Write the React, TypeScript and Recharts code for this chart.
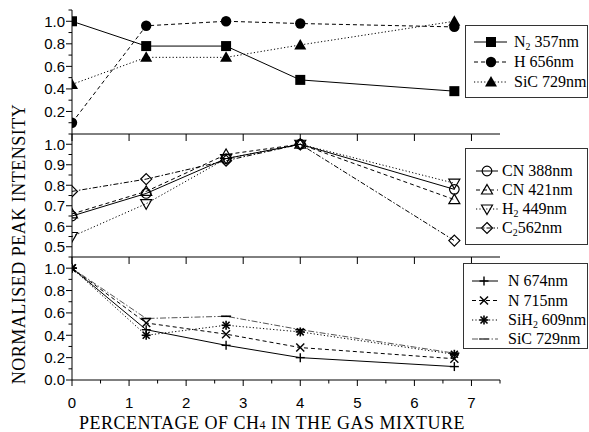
import React from 'react';
import { LineChart, Line, XAxis, YAxis, Legend } from 'recharts';

// ---------- data ----------
const xValues = [0, 1.3, 2.7, 4, 6.7];

// top panel
const n2_357 = [1.0, 0.78, 0.78, 0.48, 0.38];
const h_656 = [0.1, 0.96, 1.0, 0.98, 0.95];
const sic_729_top = [0.44, 0.68, 0.68, 0.79, 1.0];

// middle panel
const cn_388 = [0.65, 0.76, 0.93, 1.0, 0.78];
const cn_421 = [0.66, 0.77, 0.95, 1.0, 0.73];
const h2_449 = [0.55, 0.71, 0.93, 1.0, 0.81];
const c2_562 = [0.77, 0.83, 0.92, 1.0, 0.53];

// bottom panel
const n_674 = [1.0, 0.45, 0.31, 0.2, 0.12];
const n_715 = [1.0, 0.51, 0.41, 0.29, 0.19];
const sih2_609 = [1.0, 0.4, 0.49, 0.43, 0.23];
const sic_729_bot = [1.0, 0.55, 0.57, 0.45, 0.24];

const topNames = ['N_2 357nm', 'H 656nm', 'SiC 729nm'];
const midNames = ['CN 388nm', 'CN 421nm', 'H_2 449nm', 'C_2562nm'];
const botNames = ['N 674nm', 'N 715nm', 'SiH_2 609nm', 'SiC 729nm'];

const xTicksMajor = [0, 1, 2, 3, 4, 5, 6, 7];
const xTicksAll = [0, 0.5, 1, 1.5, 2, 2.5, 3, 3.5, 4, 4.5, 5, 5.5, 6, 6.5, 7, 7.5];

const topYMajor = [0.2, 0.4, 0.6, 0.8, 1.0];
const topYAll = [0.1, 0.2, 0.3, 0.4, 0.5, 0.6, 0.7, 0.8, 0.9, 1.0, 1.1];
const midYMajor = [0.5, 0.6, 0.7, 0.8, 0.9, 1.0];
const midYAll = [0.5, 0.55, 0.6, 0.65, 0.7, 0.75, 0.8, 0.85, 0.9, 0.95, 1.0, 1.05];
const botYMajor = [0.0, 0.2, 0.4, 0.6, 0.8, 1.0];
const botYAll = [0.0, 0.1, 0.2, 0.3, 0.4, 0.5, 0.6, 0.7, 0.8, 0.9, 1.0, 1.1];

const xTitle = ['PERCENTAGE OF CH', '4', ' IN THE GAS MIXTURE'];
const yTitle = 'NORMALISED PEAK INTENSITY';

const SERIF = 'Liberation Serif, Times New Roman, Times, serif';
const SANS = 'Liberation Sans, Arial, Helvetica, sans-serif';

// ---------- helpers ----------
type Kind = 'square' | 'circle' | 'triangle' | 'ocircle' | 'otri' | 'otridown' | 'odiamond' | 'plus' | 'cross' | 'star' | 'bar';

interface SeriesCfg {
  key: string;
  name: string;
  values: number[];
  dash?: string;
  color: string;
  kind: Kind;
}

const buildData = (series: SeriesCfg[]) =>
  xValues.map((x, i) => {
    const row: Record<string, number> = { x };
    series.forEach((s) => (row[s.key] = s.values[i]));
    return row;
  });

const topSeries: SeriesCfg[] = [
  { key: 'n2', name: topNames[0], values: n2_357, color: '#000', kind: 'square' },
  { key: 'h', name: topNames[1], values: h_656, dash: '4 3', color: '#000', kind: 'circle' },
  { key: 'sic', name: topNames[2], values: sic_729_top, dash: '1.2 2.2', color: '#000', kind: 'triangle' },
];
const midSeries: SeriesCfg[] = [
  { key: 'cn388', name: midNames[0], values: cn_388, color: '#000', kind: 'ocircle' },
  { key: 'cn421', name: midNames[1], values: cn_421, dash: '4 3', color: '#000', kind: 'otri' },
  { key: 'h2', name: midNames[2], values: h2_449, dash: '1.2 2.2', color: '#000', kind: 'otridown' },
  { key: 'c2', name: midNames[3], values: c2_562, dash: '5 2 1.5 2', color: '#000', kind: 'odiamond' },
];
const botSeries: SeriesCfg[] = [
  { key: 'n674', name: botNames[0], values: n_674, color: '#000', kind: 'plus' },
  { key: 'n715', name: botNames[1], values: n_715, dash: '4 3', color: '#000', kind: 'cross' },
  { key: 'sih2', name: botNames[2], values: sih2_609, dash: '1.2 2.2', color: '#000', kind: 'star' },
  { key: 'sic', name: botNames[3], values: sic_729_bot, dash: '6 2 1.5 2', color: '#555', kind: 'bar' },
];

const Marker = ({ kind, cx, cy, color }: { kind: Kind; cx: number; cy: number; color: string }) => {
  const sw = 1.2;
  switch (kind) {
    case 'square':
      return <rect x={cx - 5} y={cy - 5} width={10} height={10} fill={color} />;
    case 'circle':
      return <circle cx={cx} cy={cy} r={5.2} fill={color} />;
    case 'triangle':
      return <path d={`M${cx},${cy - 6} L${cx + 6},${cy + 4.5} L${cx - 6},${cy + 4.5} Z`} fill={color} />;
    case 'ocircle':
      return <circle cx={cx} cy={cy} r={4.8} fill="none" stroke={color} strokeWidth={sw} />;
    case 'otri':
      return <path d={`M${cx},${cy - 5.5} L${cx + 5.5},${cy + 4} L${cx - 5.5},${cy + 4} Z`} fill="none" stroke={color} strokeWidth={sw} />;
    case 'otridown':
      return <path d={`M${cx},${cy + 5.5} L${cx + 5.5},${cy - 4} L${cx - 5.5},${cy - 4} Z`} fill="none" stroke={color} strokeWidth={sw} />;
    case 'odiamond':
      return <path d={`M${cx},${cy - 5.5} L${cx + 5.5},${cy} L${cx},${cy + 5.5} L${cx - 5.5},${cy} Z`} fill="none" stroke={color} strokeWidth={sw} />;
    case 'plus':
      return (
        <g stroke={color} strokeWidth={1.4}>
          <line x1={cx - 4.5} x2={cx + 4.5} y1={cy} y2={cy} />
          <line x1={cx} x2={cx} y1={cy - 4.5} y2={cy + 4.5} />
        </g>
      );
    case 'cross':
      return (
        <g stroke={color} strokeWidth={1.4}>
          <line x1={cx - 4} x2={cx + 4} y1={cy - 4} y2={cy + 4} />
          <line x1={cx - 4} x2={cx + 4} y1={cy + 4} y2={cy - 4} />
        </g>
      );
    case 'star':
      return (
        <g stroke={color} strokeWidth={1.6}>
          <line x1={cx - 4.5} x2={cx + 4.5} y1={cy} y2={cy} />
          <line x1={cx} x2={cx} y1={cy - 4.5} y2={cy + 4.5} />
          <line x1={cx - 3.5} x2={cx + 3.5} y1={cy - 3.5} y2={cy + 3.5} />
          <line x1={cx - 3.5} x2={cx + 3.5} y1={cy + 3.5} y2={cy - 3.5} />
        </g>
      );
    case 'bar':
      return <line x1={cx - 5} x2={cx + 5} y1={cy} y2={cy} stroke={color} strokeWidth={1.6} />;
  }
  return null;
};

const near = (a: number, arr: number[]) => arr.some((m) => Math.abs(m - a) < 1e-6);

const makeYTick = (majors: number[]) => (props: any) => {
  const { x, y, payload } = props;
  const v = payload.value as number;
  const major = near(v, majors);
  return (
    <g>
      <line x1={x - (major ? 6 : 3.5)} x2={x} y1={y} y2={y} stroke="#000" strokeWidth={1} />
      {major && (
        <text x={x - 7} y={y} dy="0.36em" textAnchor="end" style={{ fontFamily: SANS, fontSize: 15 }} fill="#000">
          {v.toFixed(1)}
        </text>
      )}
    </g>
  );
};

const XTickBottom = (props: any) => {
  const { x, y, payload } = props;
  const v = payload.value as number;
  const major = near(v, xTicksMajor);
  return (
    <g>
      <line x1={x} x2={x} y1={y} y2={y + (major ? 6 : 3.5)} stroke="#000" strokeWidth={1} />
      {major && (
        <text x={x} y={y + 28} textAnchor="middle" style={{ fontFamily: SANS, fontSize: 15 }} fill="#000">
          {String(v)}
        </text>
      )}
    </g>
  );
};

const XTickPlain = (props: any) => {
  const { x, y } = props;
  return <line x1={x} x2={x} y1={y} y2={y + 7} stroke="#000" strokeWidth={1} />;
};

const LabelText = ({ text, x, y, fontSize }: { text: string; x: number; y: number; fontSize: number }) => {
  const m = text.match(/^(.*?)_(\d)(.*)$/);
  const st = { fontFamily: SERIF, fontSize };
  if (!m) {
    return (
      <text x={x} y={y} style={st} fill="#000">
        {text}
      </text>
    );
  }
  return (
    <text x={x} y={y} style={st} fill="#000">
      {m[1]}
      <tspan dy={3} style={{ fontSize: fontSize * 0.62 }}>
        {m[2]}
      </tspan>
      <tspan dy={-3}>{m[3]}</tspan>
    </text>
  );
};

interface LegendLayout {
  left: number;
  top: number;
  width: number;
  height: number;
  rows: number[];
  lineX1: number;
  lineX2: number;
  markerX: number;
  textX: number;
}

const makeLegend = (series: SeriesCfg[], L: LegendLayout) => () => (
  <div
    style={{
      width: L.width,
      height: L.height,
      border: '1px solid #333',
      boxSizing: 'border-box',
      background: '#fff',
      position: 'relative',
    }}
  >
    <svg width={L.width} height={L.height} style={{ position: 'absolute', left: -1, top: -1 }}>
      {series.map((s, i) => (
        <g key={s.key}>
          <line
            x1={L.lineX1}
            x2={L.lineX2}
            y1={L.rows[i]}
            y2={L.rows[i]}
            stroke={s.color}
            strokeWidth={1}
            strokeDasharray={s.dash}
          />
          <Marker kind={s.kind} cx={L.markerX} cy={L.rows[i]} color={s.color} />
          <LabelText text={s.name} x={L.textX} y={L.rows[i] + 5} fontSize={16} />
        </g>
      ))}
    </svg>
  </div>
);

const W = 589;
const H = 432;
const PLOT_LEFT = 72;
const PLOT_RIGHT = 500;

interface PanelProps {
  series: SeriesCfg[];
  top: number;
  bottom: number;
  yDomain: [number, number];
  yTicks: number[];
  yMajor: number[];
  legend: LegendLayout;
  isBottom?: boolean;
}

const Panel = ({ series, top, bottom, yDomain, yTicks, yMajor, legend, isBottom }: PanelProps) => {
  const data = buildData(series);
  const xh = 20;
  return (
    <div style={{ position: 'absolute', left: 0, top: 0 }}>
      <LineChart
        width={W}
        height={H}
        data={data}
        margin={{ top, bottom: H - bottom - xh, left: PLOT_LEFT - 60, right: W - PLOT_RIGHT }}
      >
        <XAxis
          dataKey="x"
          type="number"
          domain={[0, 7.5]}
          ticks={isBottom ? xTicksAll : xTicksMajor}
          interval={0}
          height={xh}
          axisLine={{ stroke: '#000', strokeWidth: 1 }}
          tickLine={false}
          tickSize={0}
          tickMargin={0}
          tick={isBottom ? XTickBottom : XTickPlain}
          allowDataOverflow
        />
        <YAxis
          type="number"
          domain={yDomain}
          ticks={yTicks}
          interval={0}
          width={60}
          axisLine={{ stroke: '#000', strokeWidth: 1 }}
          tickLine={false}
          tickSize={0}
          tickMargin={0}
          tick={makeYTick(yMajor)}
          allowDataOverflow
        />
        <Legend
          layout="vertical"
          align="center"
          verticalAlign="middle"
          content={makeLegend(series, legend)}
          wrapperStyle={{ left: legend.left, top: legend.top, width: legend.width, height: legend.height, margin: 0 }}
        />
        {series.map((s) => (
          <Line
            key={s.key}
            dataKey={s.key}
            name={s.name}
            type="linear"
            stroke={s.color}
            strokeWidth={1}
            strokeDasharray={s.dash}
            isAnimationActive={false}
            dot={(p: any) => (
              <g key={`${s.key}-${p.index}`}>
                <Marker kind={s.kind} cx={p.cx} cy={p.cy} color={s.kind === 'bar' ? '#000' : s.color} />
              </g>
            )}
            activeDot={false}
          />
        ))}
      </LineChart>
    </div>
  );
};

export default function App() {
  return (
    <div style={{ position: 'absolute', left: 0, top: 0, width: W, height: H, background: '#fff' }}>
      <Panel
        series={topSeries}
        top={10}
        bottom={134}
        yDomain={[0, 1.1]}
        yTicks={topYAll}
        yMajor={topYMajor}
        legend={{ left: 465, top: 25, width: 123, height: 73, rows: [17, 37, 57], lineX1: 9, lineX2: 42, markerX: 26, textX: 49 }}
      />
      <Panel
        series={midSeries}
        top={134}
        bottom={257}
        yDomain={[0.45, 1.05]}
        yTicks={midYAll}
        yMajor={midYMajor}
        legend={{ left: 465, top: 148, width: 123, height: 97, rows: [23, 42, 61, 80], lineX1: 11, lineX2: 33, markerX: 22, textX: 37 }}
      />
      <Panel
        series={botSeries}
        top={257}
        bottom={380}
        yDomain={[0, 1.1]}
        yTicks={botYAll}
        yMajor={botYMajor}
        legend={{ left: 463, top: 263, width: 125, height: 86, rows: [18, 37.5, 57, 76], lineX1: 9, lineX2: 35, markerX: 21, textX: 45 }}
        isBottom
      />
      <svg width={W} height={H} style={{ position: 'absolute', left: 0, top: 0, pointerEvents: 'none' }}>
        <text
          x={272}
          y={429}
          textAnchor="middle"
          style={{ fontFamily: SERIF, fontSize: 18, letterSpacing: 0.5 }}
          fill="#000"
        >
          {xTitle[0]}
          <tspan style={{ fontSize: 12 }}>{xTitle[1]}</tspan>
          {xTitle[2]}
        </text>
        <text
          x={0}
          y={0}
          transform="translate(25, 244) rotate(-90)"
          textAnchor="middle"
          style={{ fontFamily: SERIF, fontSize: 18, letterSpacing: 0.5 }}
          fill="#000"
        >
          {yTitle}
        </text>
      </svg>
    </div>
  );
}
